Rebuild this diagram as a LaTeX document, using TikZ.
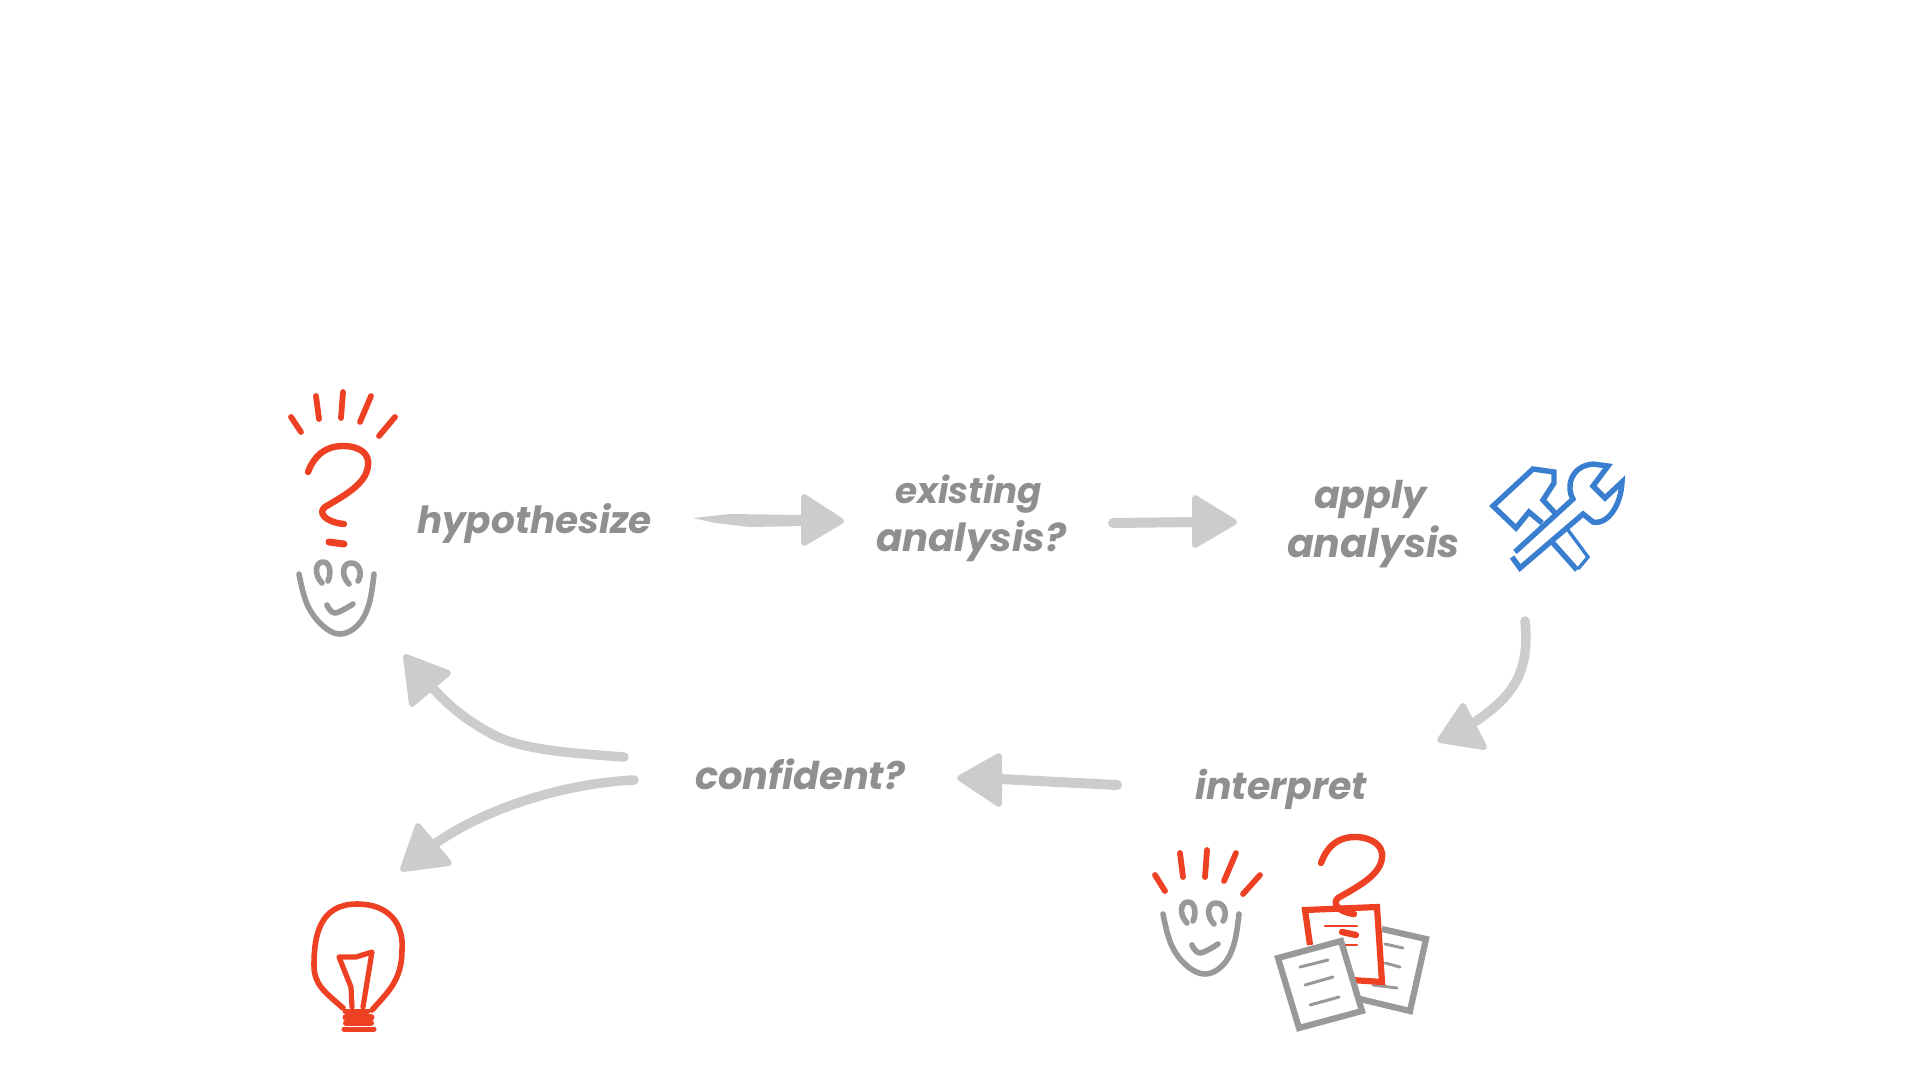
\documentclass[tikz,border=0pt]{standalone}
\usepackage{fontspec}
\newfontfamily\hand{Poppins}
\definecolor{inkred}{HTML}{EE4023}
\definecolor{inkgray}{HTML}{999999}
\definecolor{txtgray}{HTML}{8F8F8F}
\definecolor{arrowgray}{HTML}{CCCCCC}
\definecolor{inkblue}{HTML}{3A7FCF}
\tikzset{
  redline/.style={draw=inkred,line width=6.4pt,line cap=round,line join=round},
  ray/.style={draw=inkred,line width=5.8pt,line cap=round},
  grayline/.style={draw=inkgray,line width=5.6pt,line cap=round,line join=round},
  docline/.style={draw=inkgray,line width=3pt,line cap=round},
  blueline/.style={draw=inkblue,line width=5.4pt,line join=miter,line cap=butt},
  shaft/.style={draw=arrowgray,line width=10pt,line cap=round,line join=round},
  headtip/.style={fill=arrowgray,draw=arrowgray,line width=6pt,line join=round},
  hw/.style={anchor=base west,inner sep=0pt,outer sep=0pt,text=txtgray,font=\hand\bfseries\itshape},
  curvy/.style={smooth,tension=0.65}
}
\newcommand{\fitted}[2]{\resizebox{#1pt}{!}{#2}}
\begin{document}
\begin{tikzpicture}[x=1pt,y=-1pt]
\useasboundingbox (0,0) rectangle (1920,1080);
% labels
\node[hw] (hypo) at (417,533) {\fitted{235}{hypothesize}};
\node[hw] (exist) at (895,503) {\fitted{147}{existing}};
\node[hw] (ana1) at (876,551) {\fitted{190}{analysis?}};
\node[hw] (apply) at (1314,508) {\fitted{113}{apply}};
\node[hw] (ana2) at (1287,557) {\fitted{173}{analysis}};
\node[hw] (interp) at (1195,799) {\fitted{172}{interpret}};
\node[hw] (conf) at (695,789) {\fitted{210}{confident?}};
% arrow 1
\coordinate (a1p) at (841,521); \coordinate (a1b) at (804,497); \coordinate (a1c) at (804,543);
\fill[arrowgray] (693,518) -- (730,514) -- (806,515) -- (806,526) -- (750,527) -- (715,523) -- cycle;
\path[headtip] (a1p) -- (a1b) -- (a1c) -- cycle;
% arrow 2
\coordinate (a2t) at (1113,523); \coordinate (a2n) at (1196,522);
\coordinate (a2p) at (1234,522); \coordinate (a2b) at (1195,498); \coordinate (a2c) at (1195,545);
\draw[shaft] (a2t) -- (a2n);
\path[headtip] (a2p) -- (a2b) -- (a2c) -- cycle;
% arrow 3
\coordinate (a3t) at (1525,621); \coordinate (a3n) at (1470,725);
\coordinate (a3p) at (1440,740); \coordinate (a3b) at (1463,706); \coordinate (a3c) at (1484,747);
\draw[shaft,line width=9.5pt] (a3t) .. controls (1530,672) and (1514,697) .. (a3n);
\path[headtip] (a3p) -- (a3b) -- (a3c) -- cycle;
% arrow 4
\coordinate (a4t) at (1117,785); \coordinate (a4n) at (1000,779);
\coordinate (a4p) at (960,778); \coordinate (a4b) at (999,756); \coordinate (a4c) at (999,804);
\draw[shaft] (a4t) -- (a4n);
\path[headtip] (a4p) -- (a4b) -- (a4c) -- cycle;
% arrow 5
\coordinate (a5t) at (624,757); \coordinate (a5n) at (430,685); \coordinate (a5m) at (490,733);
\coordinate (a5p) at (406,657); \coordinate (a5b) at (448,673); \coordinate (a5c) at (412,704);
\draw[shaft,line width=9.5pt] (a5t) .. controls (570,753) and (520,750) .. (a5m) .. controls (470,722) and (450,708) .. (a5n);
\path[headtip] (a5p) -- (a5b) -- (a5c) -- cycle;
% arrow 6
\coordinate (a6t) at (634,780); \coordinate (a6n) at (433,845);
\coordinate (a6p) at (403,869); \coordinate (a6b) at (418,826); \coordinate (a6c) at (449,863);
\draw[shaft,line width=9.5pt] (a6t) .. controls (570,783) and (490,805) .. (a6n);
\path[headtip] (a6p) -- (a6b) -- (a6c) -- cycle;
% first head: rays, question mark, face
\draw[ray] (291,417) -- (301,432);
\draw[ray] (316,396) -- (319,419);
\draw[ray] (343,392) -- (341,418);
\draw[ray] (371,396) -- (360,422);
\draw[ray] (395,417) -- (379,436);
\draw[redline] (308,472) .. controls (314,456) and (325,446) .. (343,446) .. controls (360,446) and (370,454) .. (368,466) .. controls (366,484) and (345,495) .. (325,507) .. controls (318,512) and (324,522) .. (344,524);
\draw[redline,line width=7pt] (329,542) -- (344,544);
\draw[grayline] plot[curvy] coordinates {(299,574) (307,604) (322,625) (340,634) (358,625) (369,604) (374,574)};
\draw[grayline] (322,583) .. controls (314,575) and (315,562) .. (323,562) .. controls (331,562) and (331,575) .. (328,581);
\draw[grayline] (349,584) .. controls (341,576) and (342,563) .. (351,563) .. controls (361,563) and (362,576) .. (358,581);
\draw[grayline] plot[curvy] coordinates {(327,605) (335,613) (353,604)};
% second head
\draw[ray] (1155,875) -- (1165,891);
\draw[ray] (1180,853) -- (1183,877);
\draw[ray] (1207,850) -- (1205,877);
\draw[ray] (1236,853) -- (1224,881);
\draw[ray] (1260,875) -- (1243,894);
\draw[grayline] plot[curvy] coordinates {(1163,914) (1171,944) (1186,965) (1205,974) (1223,965) (1234,944) (1239,914)};
\draw[grayline] (1187,923) .. controls (1179,915) and (1180,902) .. (1188,902) .. controls (1196,902) and (1196,915) .. (1193,921);
\draw[grayline] (1214,924) .. controls (1206,916) and (1207,903) .. (1216,903) .. controls (1226,903) and (1227,916) .. (1223,921);
\draw[grayline] plot[curvy] coordinates {(1192,945) (1200,953) (1218,944)};
% documents
\draw[draw=inkgray,line width=6.2pt,line join=miter] (1382,929) -- (1426,939) -- (1410,1011) -- (1360,999);
\draw[docline] (1385,944) -- (1403,948);
\draw[docline] (1385,963) -- (1400,967);
\draw[docline] (1373,985) -- (1397,988);
\draw[draw=inkred,line width=6.2pt,line join=miter] (1310,945) -- (1305,910) -- (1377,907) -- (1382,982) -- (1352,980);
\draw[draw=inkred,line width=2.6pt,line cap=round] (1325,926) -- (1357,926);
\draw[draw=inkred,line width=2.6pt,line cap=round] (1343,945) -- (1357,945);
\draw[redline] (1321,863) .. controls (1327,847) and (1337,837) .. (1355,837) .. controls (1372,837) and (1384,846) .. (1382,858) .. controls (1380,876) and (1355,888) .. (1338,898) .. controls (1332,903) and (1338,912) .. (1354,914);
\draw[redline] (1342,932) -- (1356,935);
\draw[fill=white,draw=inkgray,line width=6.2pt,line join=miter] (1278,958) -- (1341,941) -- (1362,1011) -- (1299,1028) -- cycle;
\draw[docline] (1300,967) -- (1328,960);
\draw[docline] (1305,985) -- (1333,977);
\draw[docline] (1310,1005) -- (1339,997);
% tools
\draw[blueline] (1555,513) -- (1543,500) -- (1554,483) -- (1554,472) -- (1533,469) -- (1493,506) -- (1516,528) -- (1529,512) -- (1542,523);
\draw[blueline] (1553,543) -- (1577,570);
\draw[blueline,line width=3.4pt] (1568,530) -- (1588,557) -- (1578,569);
\draw[blueline] (1515,552) -- (1573,499) .. controls (1566,488) and (1570,466) .. (1593,464) -- (1608,466) -- (1593,486) -- (1605,498) -- (1622,482) .. controls (1621,505) and (1608,525) .. (1593,522) -- (1583,514) -- (1520,568) -- (1512,557);
% bulb
\draw[redline,line width=5.6pt] (343,1008) .. controls (325,992) and (314,985) .. (314,965) .. controls (314,935) and (320,904) .. (357,904) .. controls (390,904) and (404,925) .. (402,950) .. controls (402,980) and (388,992) .. (372,1010);
\draw[redline,line width=5.2pt] (352,1007) -- (351,987) -- (339,957) -- (356,957) -- (372,952) -- (363,1007);
\draw[redline,line width=5pt] (345,1011) -- (368,1011);
\draw[redline,line width=7pt] (346,1017) -- (371,1017);
\draw[redline,line width=6pt] (346,1023) -- (371,1023);
\draw[redline,line width=5pt] (344,1029) -- (374,1029);
\end{tikzpicture}
\end{document}
